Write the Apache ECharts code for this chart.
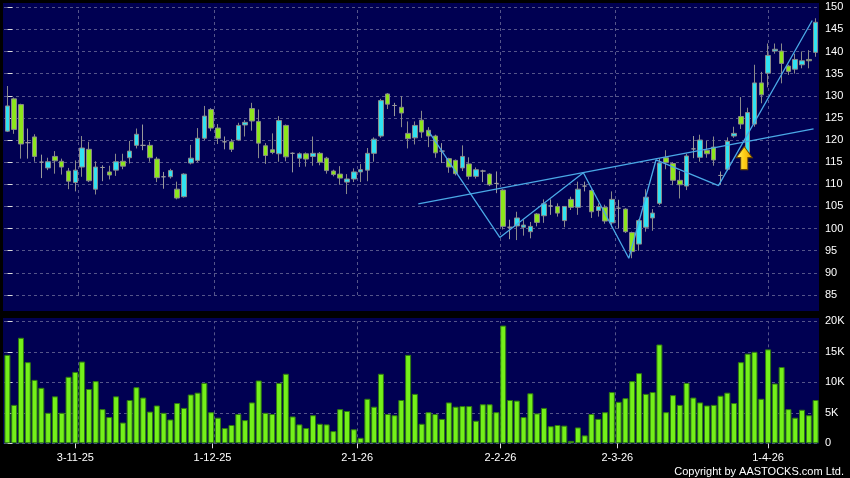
<!DOCTYPE html>
<html><head><meta charset="utf-8">
<script src="https://cdn.jsdelivr.net/npm/echarts@6/dist/echarts.min.js"></script>
<style>html,body{margin:0;padding:0;background:#000;}#c{width:850px;height:478px;}</style>
</head><body><div id="c"></div>
<script>
// ---- data ----
const opens = [122.0,129.3,128.0,119.4,120.7,115.0,113.7,116.3,115.2,113.0,
110.4,113.9,117.9,108.9,113.8,112.8,113.2,115.2,116.0,118.8,
118.8,118.8,115.7,111.7,111.7,108.9,107.2,114.8,115.4,120.4,
126.9,122.7,119.6,119.6,120.0,123.4,127.1,124.2,118.7,117.8,
116.9,123.3,117.0,115.9,116.9,116.3,117.0,115.9,113.0,112.3,
110.5,111.2,112.8,113.2,117.0,120.9,130.4,127.8,127.4,121.5,
120.5,124.5,122.2,120.9,117.5,115.8,115.4,113.7,114.6,111.8,
113.0,112.3,110.2,108.7,100.3,100.6,100.3,99.3,103.3,102.9,
105.1,105.0,101.8,106.6,104.8,109.6,108.6,104.1,104.8,101.3,
104.6,104.4,99.1,96.5,100.3,102.4,105.7,116.0,114.7,110.9,
109.6,118.0,116.1,117.7,118.4,112.0,113.4,120.9,125.3,117.2,
123.6,132.9,135.1,140.1,140.1,136.7,136.0,137.0,138.2,139.8];
const closes = [127.7,122.4,119.1,119.4,116.3,115.0,115.1,115.3,113.9,110.7,
113.2,118.2,110.8,113.9,113.8,112.1,115.1,114.1,117.5,121.3,
118.8,116.0,111.5,111.7,113.1,106.9,112.3,115.9,120.4,125.4,
122.7,120.4,119.6,117.9,123.3,124.0,124.3,119.3,116.5,117.2,
124.4,116.2,117.0,116.9,115.7,117.0,115.0,113.1,112.2,111.4,
111.2,112.8,113.3,117.0,120.2,128.9,128.1,127.8,126.1,120.3,
123.3,121.8,120.9,117.1,117.5,113.9,112.4,116.3,111.8,113.3,
113.0,109.9,110.2,100.5,100.3,102.4,100.8,100.5,101.4,105.6,
105.1,103.5,105.0,104.8,108.9,109.6,103.8,105.0,101.7,106.6,
104.6,99.3,94.8,101.8,107.1,103.5,114.8,114.9,110.9,109.9,
116.4,118.0,120.0,116.9,115.5,112.0,119.7,121.5,123.6,126.2,
132.9,130.2,139.1,140.5,137.3,135.5,138.2,137.9,137.9,146.6];
const lows = [121.8,121.4,115.8,115.8,115.1,111.4,113.2,112.4,112.2,108.9,
108.4,111.7,110.5,107.7,110.7,111.1,111.9,113.4,114.7,118.1,
117.7,115.1,110.5,109.0,111.3,106.6,107.0,114.5,115.0,120.0,
122.0,119.1,117.9,117.3,119.8,120.8,122.1,115.9,114.6,116.8,
115.1,115.2,112.7,113.9,114.0,114.2,114.3,112.4,111.8,109.9,
107.8,110.5,110.5,110.7,115.1,120.5,127.0,125.4,122.9,118.1,
119.0,120.5,118.4,116.0,114.8,112.6,112.0,113.0,111.1,111.3,
110.5,109.6,108.0,99.8,97.6,97.4,98.4,97.8,100.5,101.3,
103.1,102.7,100.3,104.2,103.1,108.4,102.4,102.7,101.1,100.3,
100.1,99.0,93.3,95.0,99.3,99.5,105.3,113.4,109.8,106.8,
108.7,115.9,115.1,116.0,114.2,109.9,113.0,120.5,122.5,116.8,
123.0,128.3,131.9,139.5,132.8,134.7,135.0,136.2,136.2,138.8];
const highs = [132.2,129.6,128.2,122.6,121.3,116.7,116.0,117.5,115.8,113.7,
115.4,120.9,119.6,115.2,114.3,114.2,116.9,116.9,119.8,122.6,
123.5,119.6,116.2,112.8,113.5,110.6,112.5,118.9,122.7,127.7,
127.2,123.6,120.8,120.2,123.9,124.5,128.4,126.9,119.3,121.5,
125.4,123.5,117.2,117.2,117.2,120.8,117.3,116.2,113.3,114.1,
112.3,113.6,114.6,118.2,120.6,129.3,130.6,128.4,129.9,124.2,
124.2,126.6,122.9,121.2,119.3,116.0,115.6,118.8,116.1,113.8,
113.3,112.5,112.9,108.9,102.0,103.8,102.0,101.5,103.5,106.6,
106.6,105.7,105.1,107.2,110.6,110.6,108.9,105.7,105.4,108.4,
106.5,104.6,99.3,102.1,108.9,104.4,115.9,117.7,115.0,113.0,
116.9,120.9,121.2,119.8,120.8,112.9,120.6,123.0,129.7,127.3,
137.0,135.4,141.8,141.8,141.8,137.0,139.5,140.0,140.3,147.5];
const volumesK = [14.5,6.3,17.3,13.3,10.4,9.1,5.0,7.7,5.0,10.9,
11.7,13.4,8.9,10.2,5.6,4.3,7.7,3.4,7.1,9.2,
7.5,5.2,6.2,5.0,3.9,6.6,5.8,8.0,8.3,9.9,
5.1,4.2,2.5,3.0,4.8,3.8,6.7,10.3,5.0,4.8,
9.9,11.4,4.4,3.1,2.5,4.6,3.2,3.1,2.0,5.6,
5.3,2.3,0.9,7.3,6.0,11.4,4.8,4.6,7.1,14.5,
8.1,3.2,5.1,4.8,4.0,6.7,6.0,6.1,6.1,3.7,
6.4,6.4,5.1,19.3,7.1,7.0,4.3,8.2,4.9,5.8,
2.8,3.0,2.9,0.4,2.6,1.3,4.8,4.0,5.1,8.4,
6.8,7.4,10.2,11.5,8.1,8.4,16.2,5.1,7.9,6.3,
9.9,7.5,6.7,6.2,6.3,7.8,8.3,6.6,13.3,14.7,
15.0,7.3,15.4,9.8,12.5,5.6,4.2,5.5,4.6,7.1];
const dateLabels = ['3-11-25','1-12-25','2-1-26','2-2-26','2-3-26','1-4-26'];
const dateLabelAt = [10, 30.2, 51.5, 72.6, 89.8, 112];
const monthLineAt = [10.5, 30.5, 51.5, 72.5, 89.5, 112];
const priceMin = 85, priceMax = 150, priceStep = 5;
const volMin = 0, volMax = 20, volStep = 5;
const trendLine = [[60.5, 105.6], [118.7, 122.5]];
const zigzag = [[62, 122.0], [72.5, 98.0], [84.8, 112.6], [91.5, 93.3], [95.5, 115.5], [104.7, 109.7], [118.5, 147.0]];
const arrowAt = [[108.5, 115.9]];
const copyright = 'Copyright by AASTOCKS.com Ltd.';

// ---- build ----
const candleData = opens.map((o, i) => [i, o, closes[i], lows[i], highs[i]]);
const volData = volumesK.map((v, i) => [i, v]);
const FONT = "'Liberation Sans', Arial, sans-serif";
const GRID_COL = '#55558a';
const NAVY = '#000052';
const vLines = (z) => ({
  silent: true, symbol: 'none', z: z, animation: false,
  label: {show: false},
  lineStyle: {color: GRID_COL, type: [3, 3], width: 1},
  emphasis: {disabled: true},
  data: monthLineAt.map(x => ({xAxis: x}))
});

const chart = echarts.init(document.getElementById('c'), null, {renderer: 'canvas'});
chart.setOption({
  animation: false,
  backgroundColor: '#000',
  graphic: {elements: [
    {type: 'rect', z: -10, shape: {x: 3, y: 3, width: 816, height: 308}, style: {fill: NAVY}},
    {type: 'rect', z: -10, shape: {x: 3, y: 318, width: 816, height: 126}, style: {fill: NAVY}},
    {type: 'text', right: 6, bottom: 1, style: {text: copyright, fill: '#fff', font: '11px ' + FONT}}
  ]},
  grid: [
    {left: 4, top: 7.2, width: 815, height: 287.8},
    {left: 4, top: 321.3, width: 815, height: 122}
  ],
  xAxis: [
    {type: 'value', gridIndex: 0, min: -0.5, max: 119.5, axisLine: {show: false}, axisTick: {show: false}, axisLabel: {show: false}, splitLine: {show: false}},
    {type: 'value', gridIndex: 1, min: -0.5, max: 119.5, axisLine: {show: false},
     axisTick: {show: true, customValues: dateLabelAt, length: 5, lineStyle: {color: '#ddd'}},
     axisLabel: {show: true, customValues: dateLabelAt, color: '#fff', fontSize: 11, fontFamily: FONT, margin: 9,
       formatter: (v) => { const k = dateLabelAt.indexOf(v); return k >= 0 ? dateLabels[k] : ''; }},
     splitLine: {show: false}}
  ],
  yAxis: [
    {type: 'value', gridIndex: 0, position: 'right', offset: 3, min: priceMin, max: priceMax, interval: priceStep,
     axisLine: {show: false}, axisTick: {show: true, length: 5, lineStyle: {color: '#ddd'}},
     axisLabel: {color: '#fff', fontSize: 11, fontFamily: FONT, margin: 3},
     splitLine: {show: true, lineStyle: {color: GRID_COL, type: [3, 3]}}},
    {type: 'value', gridIndex: 1, position: 'right', offset: 3, min: volMin, max: volMax, interval: volStep,
     axisLine: {show: false}, axisTick: {show: true, length: 5, lineStyle: {color: '#ddd'}},
     axisLabel: {color: '#fff', fontSize: 11, fontFamily: FONT, margin: 3, formatter: (v) => v === 0 ? '0' : v + 'K'},
     splitLine: {show: true, lineStyle: {color: GRID_COL, type: [3, 3]}}}
  ],
  series: [
    {type: 'candlestick', xAxisIndex: 0, yAxisIndex: 0, data: candleData, encode: {x: 0, y: [1, 2, 3, 4]},
     barWidth: 5, z: 3,
     itemStyle: {color: '#30e2f2', color0: '#8ce61c', borderColor: '#8a8a8a', borderColor0: '#8a8a8a', borderColorDoji: '#9a9a9a', borderWidth: 1},
     markLine: vLines(1)},
    {type: 'bar', xAxisIndex: 1, yAxisIndex: 1, data: volData, barWidth: 6, z: 3,
     itemStyle: {color: '#74f01a', borderColor: '#2f7a10', borderWidth: 1},
     markLine: vLines(1)},
    {type: 'line', xAxisIndex: 0, yAxisIndex: 0, data: trendLine, symbol: 'none', z: 5,
     lineStyle: {color: '#4aa8e6', width: 1.3}},
    {type: 'line', xAxisIndex: 0, yAxisIndex: 0, data: zigzag, symbol: 'none', z: 5,
     lineStyle: {color: '#4aa8e6', width: 1.3}},
    {type: 'scatter', xAxisIndex: 0, yAxisIndex: 0, data: arrowAt, z: 6,
     symbol: 'path://M8,0 L16,11 L11.5,11 L11.5,23 L4.5,23 L4.5,11 L0,11 Z', symbolSize: [16, 23],
     itemStyle: {color: new echarts.graphic.LinearGradient(0, 0, 1, 0, [{offset: 0, color: '#fff27a'}, {offset: 0.45, color: '#ffd21a'}, {offset: 1, color: '#e8a000'}]),
       borderColor: '#6a4800', borderWidth: 1, opacity: 1}}
  ]
});
</script></body></html>
